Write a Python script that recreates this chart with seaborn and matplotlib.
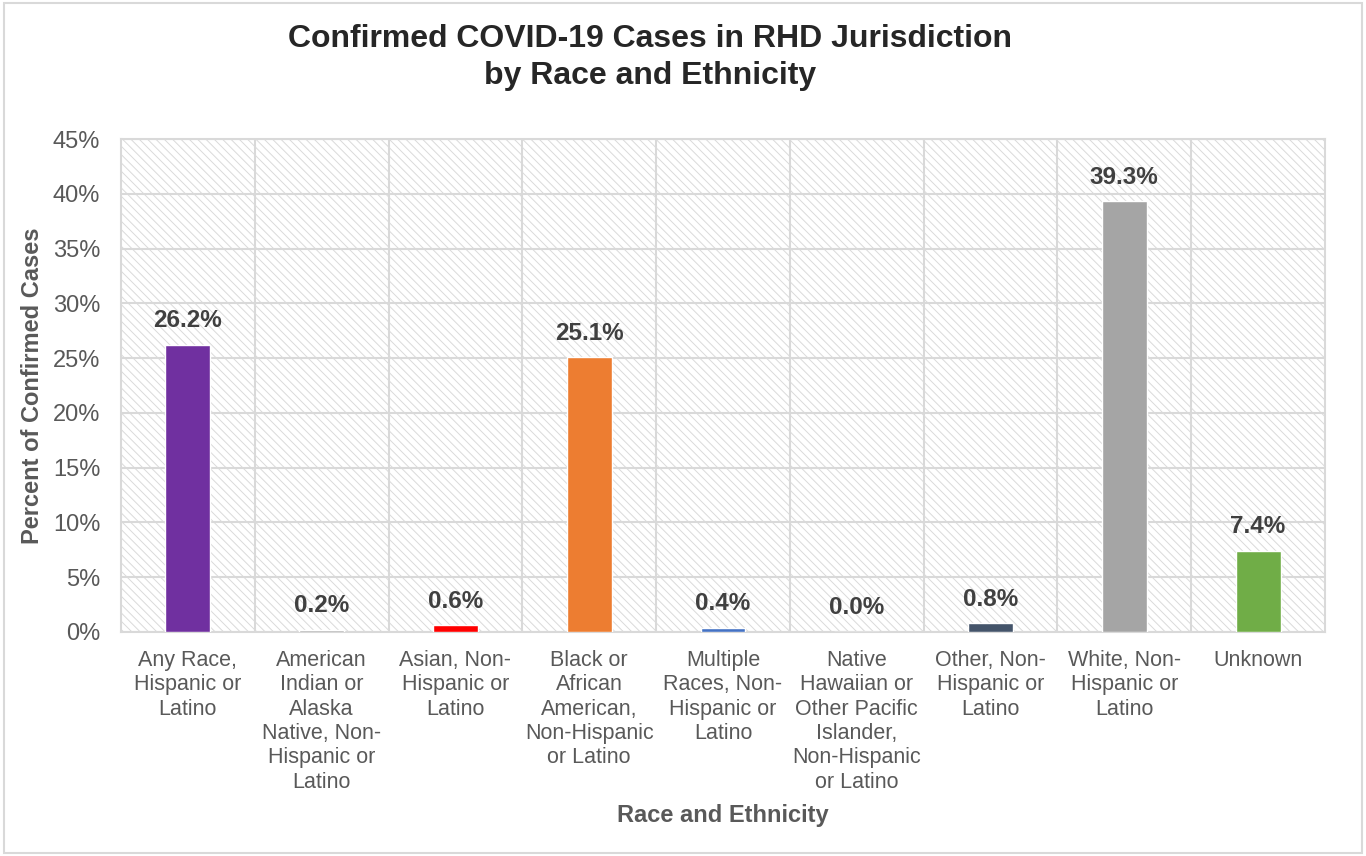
import seaborn as sns
import matplotlib.pyplot as plt
from matplotlib.patches import Rectangle
from matplotlib.ticker import FuncFormatter

# data
categories = [
    "Any Race,\nHispanic or\nLatino",
    "American\nIndian or\nAlaska\nNative, Non-\nHispanic or\nLatino",
    "Asian, Non-\nHispanic or\nLatino",
    "Black or\nAfrican\nAmerican,\nNon-Hispanic\nor Latino",
    "Multiple\nRaces, Non-\nHispanic or\nLatino",
    "Native\nHawaiian or\nOther Pacific\nIslander,\nNon-Hispanic\nor Latino",
    "Other, Non-\nHispanic or\nLatino",
    "White, Non-\nHispanic or\nLatino",
    "Unknown",
]
percents = [26.2, 0.2, 0.6, 25.1, 0.4, 0.0, 0.8, 39.3, 7.4]
bar_colors = ["#7030A0", "#A5A5A5", "#FF0000", "#ED7D31", "#4472C4",
              "#5B9BD5", "#44546A", "#A5A5A5", "#70AD47"]

sns.set_style("white")
plt.rcParams['font.family'] = ['Liberation Sans', 'DejaVu Sans']
plt.rcParams['hatch.linewidth'] = 0.7

fig = plt.figure(figsize=(13.66, 8.56), dpi=100)
ax = fig.add_axes([121 / 1366, 1 - 632 / 856, (1325 - 121) / 1366, (632 - 139) / 856])

sns.barplot(x=categories, y=percents, hue=categories, palette=bar_colors,
            width=0.336, legend=False, saturation=1, ax=ax, zorder=3)

# hatched plot area
ax.add_patch(Rectangle((0, 0), 1, 1, transform=ax.transAxes, facecolor='white',
                       edgecolor='#dadada', hatch='\\\\\\\\', lw=0, zorder=0.1))

ax.set_xlim(-0.5, 8.5)
ax.set_ylim(0, 45)
ax.set_yticks(range(0, 46, 5))
ax.yaxis.set_major_formatter(FuncFormatter(lambda v, p: f"{int(v)}%"))
ax.set_xticks([i + 0.5 for i in range(8)], minor=True)
ax.grid(axis='y', which='major', color='#d9d9d9', lw=1.5, zorder=1)
ax.grid(axis='x', which='minor', color='#d9d9d9', lw=1.5, zorder=1)
ax.tick_params(axis='both', which='both', length=0, labelcolor='#595959')
ax.tick_params(axis='y', labelsize=17, pad=15)
ax.tick_params(axis='x', labelsize=15.5, pad=13)
for lbl in ax.get_xticklabels():
    lbl.set_linespacing(1.21)
for s in ax.spines.values():
    s.set_color('#d9d9d9')
    s.set_linewidth(1.5)

for c, v in zip(ax.containers, percents):
    ax.bar_label(c, labels=[f"{v:.1f}%"], padding=9, fontsize=17.5,
                 fontweight='bold', color='#404040')

ax.set_xlabel("Race and Ethnicity", fontsize=17, fontweight='bold',
              color='#595959', labelpad=8)
ax.set_ylabel("Percent of Confirmed Cases", fontsize=17, fontweight='bold',
              color='#595959', labelpad=6)

fig.text(0.476, 0.9325, "Confirmed COVID-19 Cases in RHD Jurisdiction\nby Race and Ethnicity",
         ha='center', va='center', fontsize=23, fontweight='bold', linespacing=1.3)

fig.patches.append(Rectangle((0.003, 0.004), 0.994, 0.992, transform=fig.transFigure,
                             fill=False, edgecolor='#d9d9d9', lw=1.5))

fig.savefig("out.png", dpi=100)
